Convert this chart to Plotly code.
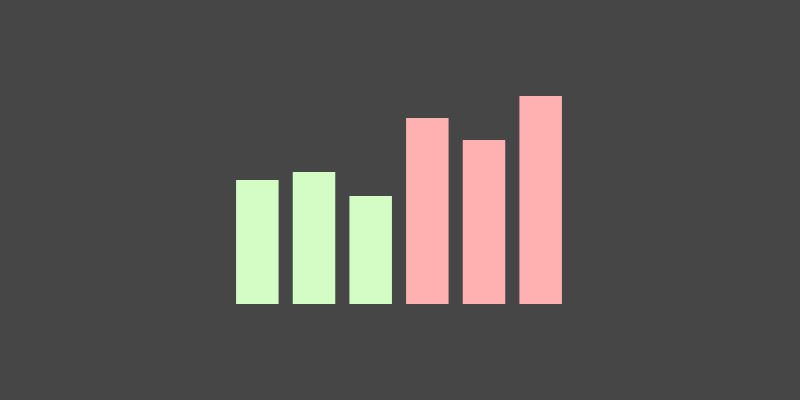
import plotly.graph_objects as go

categories = ["A", "B", "C", "D", "E", "F"]
values = [124, 132, 108, 186, 164, 208]
bar_colors = ["#d4fdc6", "#d4fdc6", "#d4fdc6", "#ffb0b0", "#ffb0b0", "#ffb0b0"]

fig = go.Figure(go.Bar(x=categories, y=values, marker_color=bar_colors,
                       marker_line_width=0, hoverinfo="skip"))

fig.update_layout(
    width=800, height=400,
    margin=dict(l=229, r=231, t=96, b=96),
    paper_bgcolor="#464646", plot_bgcolor="#464646",
    bargap=0.25,
    showlegend=False,
)
fig.update_xaxes(visible=False)
fig.update_yaxes(visible=False, range=[0, 208])

# drop the default page margin so the chart sits at the top-left corner
fig.write_html("out.html", config={"displayModeBar": False},
               post_script="document.body.style.margin='0';"
                           "document.body.style.background='#464646';")
